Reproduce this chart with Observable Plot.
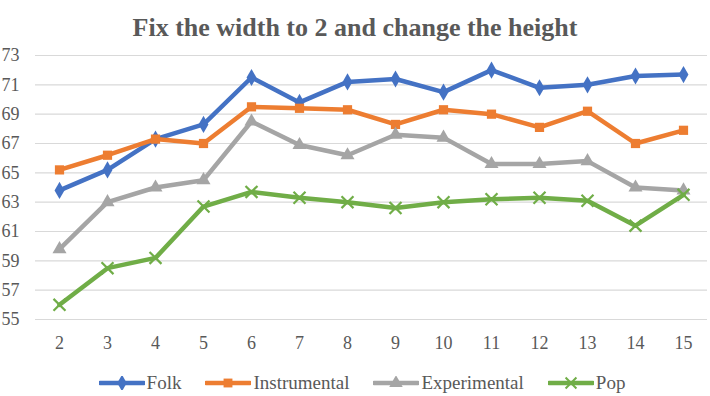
<!DOCTYPE html>
<html>
<head>
<meta charset="utf-8">
<script src="https://cdn.jsdelivr.net/npm/d3@7"></script>
<script src="https://cdn.jsdelivr.net/npm/@observablehq/plot@0.6"></script>
<style>
  html, body { margin: 0; padding: 0; background: #fff; }
  #wrap { width: 710px; height: 396px; overflow: hidden; font-family: 'Liberation Serif'; color: #595959; }
  #title { height: 44px; line-height: 56px; text-align: center; font-weight: bold; font-size: 26px; color: #595959; }
  #legend { display: flex; justify-content: center; align-items: center; gap: 24px; font-size: 19px; height: 34px; padding-top: 7px; box-sizing: border-box; padding-left: 14px; font-family: 'Liberation Serif'; }
  #legend .item { display: flex; align-items: center; gap: 2px; }
</style>
</head>
<body>
<div id="wrap">
  <div id="title">Fix the width to 2 and change the height</div>
  <div id="chart"></div>
  <div id="legend"></div>
</div>
<script>
// Category positions along the x axis
const positions = [2, 3, 4, 5, 6, 7, 8, 9, 10, 11, 12, 13, 14, 15];

// Series values, one per position
const folk = [63.8, 65.2, 67.3, 68.3, 71.5, 69.8, 71.2, 71.4, 70.5, 72.0, 70.8, 71.0, 71.6, 71.7];
const instrumental = [65.2, 66.2, 67.3, 67.0, 69.5, 69.4, 69.3, 68.3, 69.3, 69.0, 68.1, 69.2, 67.0, 67.9];
const experimental = [59.8, 63.0, 64.0, 64.5, 68.5, 66.9, 66.2, 67.6, 67.4, 65.6, 65.6, 65.8, 64.0, 63.8];
const pop = [56.0, 58.5, 59.2, 62.7, 63.7, 63.3, 63.0, 62.6, 63.0, 63.2, 63.3, 63.1, 61.4, 63.5];

// Y axis tick labels
const yTicks = [55, 57, 59, 61, 63, 65, 67, 69, 71, 73];

const seriesNames = ["Folk", "Instrumental", "Experimental", "Pop"];
const seriesValues = [folk, instrumental, experimental, pop];
const colors = ["#4472C4", "#ED7D31", "#A5A5A5", "#70AD47"];
const symbols = ["diamond", "square", "triangle", "times"];

const rows = seriesNames.flatMap((name, i) =>
  positions.map((p, j) => ({series: name, x: p, y: seriesValues[i][j]}))
);

const marks = [
  Plot.gridY(yTicks, {stroke: "#D9D9D9", strokeOpacity: 1, strokeWidth: 1.2}),
  Plot.axisY(yTicks, {tickSize: 0, tickPadding: 16, fontSize: 18, fill: "#595959", label: null}),
  Plot.axisX(positions, {tickSize: 0, tickPadding: 17, fontSize: 18, fill: "#595959", label: null})
];

seriesNames.forEach((name, i) => {
  const data = rows.filter(d => d.series === name);
  marks.push(Plot.line(data, {x: "x", y: "y", stroke: colors[i], strokeWidth: 4.5, strokeLinejoin: "round"}));
  if (symbols[i] === "times") {
    marks.push(Plot.dot(data, {x: "x", y: "y", symbol: "times", r: 5.5, stroke: colors[i], strokeWidth: 2.2}));
  } else {
    marks.push(Plot.dot(data, {x: "x", y: "y", symbol: symbols[i], r: 5.2, fill: colors[i], stroke: "none"}));
  }
});

const chart = Plot.plot({
  width: 710,
  height: 318,
  marginTop: 11,
  marginBottom: 43,
  marginLeft: 35,
  marginRight: 3,
  style: {background: "#fff", fontFamily: "Liberation Serif"},
  x: {type: "point", domain: positions, padding: 0.5},
  y: {domain: [55, 73]},
  marks
});
document.getElementById("chart").appendChild(chart);

// Legend: line swatch with the series marker, followed by its name
const legend = d3.select("#legend");
seriesNames.forEach((name, i) => {
  const item = legend.append("div").attr("class", "item");
  const svg = item.append("svg").attr("width", 46).attr("height", 14);
  svg.append("line").attr("x1", 1).attr("x2", 45).attr("y1", 7).attr("y2", 7)
    .attr("stroke", colors[i]).attr("stroke-width", 4.5).attr("stroke-linecap", "round");
  const sym = {diamond: d3.symbolDiamond, square: d3.symbolSquare, triangle: d3.symbolTriangle, times: d3.symbolTimes}[symbols[i]];
  const path = svg.append("path").attr("transform", "translate(23,7)")
    .attr("d", d3.symbol(sym, Math.PI * 5 * 5)());
  if (symbols[i] === "times") path.attr("fill", "none").attr("stroke", colors[i]).attr("stroke-width", 2);
  else path.attr("fill", colors[i]);
  item.append("span").text(name);
});
</script>
</body>
</html>
